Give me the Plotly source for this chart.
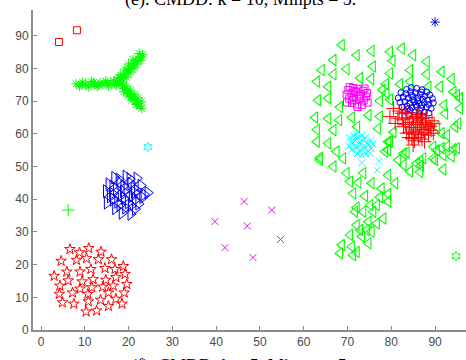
import plotly.graph_objects as go

# ---- cluster data (x, y) ----
sq_red_x = [4.1, 8.2]
sq_red_y = [88.1, 91.7]

ast_green_x = [8.0, 8.8, 9.5, 10.2, 10.9, 11.5, 12.2, 12.8, 13.5, 14.1, 14.8, 15.4, 16.0, 16.6, 17.2, 17.8,
               9.2, 11.9, 13.2, 15.1, 16.9,
               18.5, 19.0, 19.4, 19.9, 20.3, 20.8, 21.2, 21.7, 22.2, 22.7, 23.2, 19.6, 20.5, 21.4, 22.0, 22.8,
               18.2, 19.2, 20.0, 21.0, 22.4,
               18.6, 19.1, 19.6, 20.1, 20.6, 21.1, 21.6, 22.1, 22.6, 23.0, 19.5, 20.4, 21.3, 22.2, 22.9,
               18.9, 19.9, 20.8, 21.8, 17.5, 18.0, 18.4, 17.8]
ast_green_y = [75.3, 74.6, 75.8, 75.1, 74.4, 76.0, 75.2, 74.5, 75.7, 75.0, 76.2, 74.7, 75.5, 76.3, 74.9, 75.8,
               74.9, 75.6, 74.9, 75.6, 75.2,
               76.8, 77.8, 78.5, 79.3, 80.1, 80.8, 81.6, 82.3, 83.0, 83.6, 84.2, 77.2, 78.9, 80.2, 81.4, 82.5,
               78.0, 79.8, 81.4, 82.8, 84.6,
               74.7, 73.8, 73.0, 72.2, 71.4, 70.7, 70.0, 69.3, 68.5, 67.8, 74.6, 73.2, 72.1, 71.0, 69.8,
               72.9, 71.6, 70.3, 69.0, 76.8, 76.0, 75.5, 77.3]

hex_cyan_x = [24.4]
hex_cyan_y = [56.0]

plus_green_x = [6.2]
plus_green_y = [36.7]

tri_blue_x = [16.8, 19.4, 21.9, 15.5, 18.0, 20.5, 22.8, 14.9, 17.2, 19.6, 22.0, 24.4, 15.8, 18.3, 20.8, 23.2,
              15.1, 17.5, 19.9, 22.3, 17.0, 19.3, 21.5, 18.5, 20.5, 16.4, 18.9, 21.2, 16.3, 18.8, 21.3, 23.5,
              16.5, 19.0, 21.5, 18.0, 20.6, 17.8, 20.3]
tri_blue_y = [46.6, 47.0, 46.4, 44.6, 45.0, 44.8, 44.2, 42.5, 43.2, 43.0, 42.6, 42.0, 40.8, 41.2, 41.0, 40.6,
              38.9, 39.2, 39.0, 38.6, 37.2, 37.4, 37.0, 35.8, 35.5, 44.0, 44.1, 43.4, 41.8, 42.4, 42.1, 41.5,
              39.9, 40.3, 39.8, 38.2, 38.1, 46.1, 46.2]

star_red_x = [6.6, 8.8, 10.9, 13.7, 4.6, 8.1, 10.4, 13.1, 16.1, 5.9, 8.9, 11.4, 14.6, 16.9, 18.8, 19.2,
              3.0, 6.2, 9.4, 11.9, 14.8, 17.1, 4.3, 8.9, 11.6, 14.1, 16.5, 19.6, 4.2, 7.2, 10.7, 15.4, 19.0,
              4.9, 7.5, 10.8, 13.6, 17.1, 15.4, 18.5, 10.3, 12.7]
star_red_y = [24.7, 23.7, 25.0, 23.9, 21.1, 21.4, 21.9, 21.6, 21.6, 17.8, 17.8, 18.6, 18.9, 18.6, 19.5, 17.1,
              16.5, 15.1, 14.8, 15.5, 15.3, 16.1, 13.5, 12.6, 13.0, 13.2, 13.5, 14.0, 11.0, 11.4, 11.0, 11.4, 11.4,
              8.4, 8.0, 8.7, 9.2, 9.5, 7.3, 8.0, 5.6, 5.9]

x_mag_x = [46.4, 52.7, 39.7, 47.1, 54.7, 42.0, 48.4]
x_mag_y = [39.3, 36.7, 33.2, 31.8, 27.7, 25.2, 22.2]

ast_blue_x = [90.0]
ast_blue_y = [94.2]

hex_green_x = [94.8]
hex_green_y = [22.6]

tri_green_x = [68.7, 72.1, 75.5, 79.7, 82.4, 85.0, 66.8, 80.3, 88.1, 64.1, 66.8, 69.8, 75.8, 79.7, 84.3, 88.1,
               91.5, 63.0, 65.6, 72.9, 75.4, 78.8, 82.0, 84.3, 88.5, 93.8, 63.3, 65.6, 68.3, 77.4, 79.7, 94.2,
               95.7, 92.1, 62.6, 65.6, 68.1, 71.0, 74.8, 77.4, 92.3, 95.7, 63.0, 66.8, 72.2, 77.0, 91.5, 94.6,
               63.0, 65.6, 79.3, 92.7, 95.0, 91.5, 63.7, 67.5, 69.0, 79.3, 82.8, 87.3, 89.6, 81.6,
               83.5, 86.6, 90.0, 91.9, 94.2, 63.7, 66.8, 82.8, 84.3, 86.6, 91.9, 69.8, 73.6, 70.6, 72.5, 75.5,
               79.3, 80.9, 77.8, 71.3, 74.0, 77.4, 79.3, 76.7, 79.3, 72.1, 75.2, 71.7, 73.6, 75.9, 78.2, 72.1,
               74.8, 76.7, 72.9, 70.6, 74.4, 73.3, 75.5, 68.7, 71.0, 74.8, 68.3, 71.3, 72.1,
               90.4, 85.8, 78.9, 91.1, 95.0, 95.3, 90.4, 92.7, 79.7, 78.6, 89.6, 93.8, 86.8, 78.0, 80.5]
tri_green_y = [87.2, 84.1, 85.4, 85.1, 86.1, 84.1, 82.6, 82.4, 82.1, 79.5, 78.2, 79.8, 80.6, 78.5, 79.5, 78.3,
               79.0, 76.0, 74.4, 77.1, 76.8, 75.2, 75.2, 76.0, 74.4, 76.8, 70.3, 70.9, 68.2, 70.1, 70.5, 72.9,
               70.9, 68.8, 65.0, 64.7, 64.2, 65.0, 65.7, 65.3, 66.2, 67.8, 61.3, 61.2, 62.2, 61.6, 60.2, 62.2,
               57.6, 57.1, 57.6, 56.1, 55.6, 55.6, 52.7, 54.6, 52.5, 55.0, 54.0, 52.5, 52.5, 52.0,
               54.3, 51.6, 52.0, 53.5, 55.3, 52.0, 50.0, 50.5, 48.5, 48.3, 49.1, 48.0, 48.0, 45.4, 45.1, 44.9,
               47.4, 44.9, 43.3, 41.8, 41.0, 40.6, 41.6, 38.2, 39.3, 37.5, 38.2, 36.2, 36.2, 36.2, 34.1, 32.1,
               33.1, 32.6, 30.6, 29.1, 30.6, 28.6, 30.1, 26.0, 25.5, 26.5, 23.5, 22.9, 23.9,
               55.0, 51.0, 72.4, 74.4, 71.9, 63.2, 62.2, 59.6, 57.6, 54.6, 56.1, 53.1, 50.2, 73.5, 60.5]

sq_mag_x = [70.2, 71.3, 72.5, 73.6, 74.5, 69.8, 70.9, 72.0, 73.1, 74.2, 70.4, 71.5, 72.6, 73.7, 69.9, 71.0,
            72.2, 73.3, 74.6, 71.6, 72.9, 71.1, 70.5, 73.9, 72.3]
sq_mag_y = [73.4, 74.0, 73.8, 73.2, 72.5, 72.0, 72.4, 72.8, 72.1, 71.4, 70.8, 71.2, 70.6, 70.2, 69.6, 69.5,
            69.0, 68.8, 69.6, 73.1, 71.5, 70.3, 74.3, 73.9, 68.2]

circ_blue_x = [83.5, 84.6, 85.8, 87.0, 88.1, 82.2, 83.3, 84.4, 85.5, 86.6, 87.7, 88.8, 81.6, 82.7, 83.9, 85.0,
               86.1, 87.2, 88.3, 89.4, 82.0, 83.1, 84.2, 85.3, 86.4, 87.5, 88.6, 89.6, 82.5, 83.6, 84.7, 85.8,
               86.9, 88.0, 89.1, 83.2, 84.3, 85.4, 86.5, 87.6, 88.6, 84.0, 85.2, 86.3, 87.3, 84.9, 86.0, 87.0,
               84.6, 85.6, 83.8, 86.9]
circ_blue_y = [73.6, 74.2, 73.9, 73.5, 72.8, 72.6, 72.3, 72.9, 72.6, 72.1, 71.6, 71.9, 71.0, 71.3, 70.9, 71.4,
               71.0, 70.6, 70.3, 70.8, 69.6, 69.9, 69.4, 69.8, 69.3, 69.6, 69.0, 69.5, 68.2, 68.5, 68.0, 68.4,
               67.9, 68.2, 67.8, 66.9, 67.2, 66.7, 67.1, 66.6, 66.4, 65.8, 65.6, 65.9, 65.4, 70.4, 70.1, 68.8,
               71.8, 68.9, 67.6, 72.8]

plus_red_x = [80.5, 79.7, 80.9, 82.4, 81.5, 82.8, 83.5, 84.7, 85.0, 87.0, 86.6, 88.9, 89.6,
              84.2, 85.1, 86.0, 86.9, 87.8, 88.6, 84.6, 85.5, 86.4, 87.3, 88.2, 89.1, 84.1, 85.0, 85.9, 86.8,
              87.7, 88.5, 83.8, 84.9, 85.7, 87.1, 88.0, 89.3, 86.2, 85.3, 83.2, 82.6, 81.8, 83.4, 87.6, 89.8,
              86.1, 84.0]
plus_red_y = [67.8, 65.3, 63.2, 66.3, 64.8, 62.2, 60.2, 58.6, 56.6, 58.4, 64.2, 62.2, 60.2,
              63.5, 62.8, 63.6, 62.9, 63.4, 62.7, 61.9, 61.2, 62.0, 61.3, 61.8, 61.1, 60.5, 59.9, 60.6, 59.8,
              60.3, 59.6, 64.9, 64.6, 65.3, 64.8, 65.0, 64.0, 58.9, 57.9, 62.9, 64.3, 67.0, 66.5, 57.6, 63.1,
              65.9, 58.9]

x_cyan_x = [70.5, 71.4, 72.3, 73.2, 74.0, 70.9, 71.8, 72.7, 73.6, 74.5, 75.3, 70.4, 71.3, 72.2, 73.1, 74.0,
            74.9, 71.0, 71.9, 72.8, 73.7, 74.6, 75.5, 72.3, 73.3, 74.2, 75.2, 73.3, 77.2, 76.8, 75.8, 72.0]
x_cyan_y = [58.8, 59.4, 58.9, 59.5, 58.8, 57.6, 58.0, 57.5, 58.1, 57.4, 57.9, 56.3, 56.7, 56.2, 56.8, 56.1,
            56.6, 55.1, 55.5, 54.9, 55.4, 54.8, 55.5, 54.0, 53.6, 53.9, 54.0, 51.2, 51.6, 48.9, 56.9, 60.0]

x_ticks = [0, 10, 20, 30, 40, 50, 60, 70, 80, 90]
y_ticks = [0, 10, 20, 30, 40, 50, 60, 70, 80, 90]

RED, GREEN, BLUE, CYAN, MAG = "#ff0000", "#00ff00", "#0000ff", "#00ffff", "#ff00ff"


def series(xs, ys, symbol, color, size, width=1.0):
    return go.Scatter(x=xs, y=ys, mode="markers", cliponaxis=False, hoverinfo="skip",
                      marker=dict(symbol=symbol, size=size, color=color,
                                  line=dict(color=color, width=width)))


fig = go.Figure()
fig.add_trace(series(tri_green_x, tri_green_y, "triangle-left-open", GREEN, 10, 1.1))
fig.add_trace(series(sq_red_x, sq_red_y, "square-open", RED, 7))
fig.add_trace(series(ast_green_x, ast_green_y, "asterisk-open", GREEN, 8))
fig.add_trace(series(hex_cyan_x, hex_cyan_y, "hexagram-open", CYAN, 7))
fig.add_trace(series(plus_green_x, plus_green_y, "cross-thin-open", GREEN, 9))
fig.add_trace(series(tri_blue_x, tri_blue_y, "triangle-right-open", BLUE, 11))
fig.add_trace(series(star_red_x, star_red_y, "star-open", RED, 8))
fig.add_trace(series(x_mag_x, x_mag_y, "x-thin-open", MAG, 7))
fig.add_trace(series(ast_blue_x, ast_blue_y, "asterisk-open", BLUE, 8))
fig.add_trace(series(hex_green_x, hex_green_y, "hexagram-open", GREEN, 7))
fig.add_trace(series(sq_mag_x, sq_mag_y, "square-open", MAG, 7))
fig.add_trace(series(circ_blue_x, circ_blue_y, "circle-open", BLUE, 6))
fig.add_trace(series(plus_red_x, plus_red_y, "cross-thin-open", RED, 10))
fig.add_trace(series(x_cyan_x, x_cyan_y, "x-thin-open", CYAN, 7))

axis_common = dict(
    showgrid=False, zeroline=False, showline=True, linecolor="#8c8c8c", linewidth=2,
    ticks="inside", ticklen=4, tickwidth=1, tickcolor="#8c8c8c",
    tickfont=dict(family="Liberation Sans, Arial, sans-serif", size=12, color="#4a4a4a"),
)

fig.update_layout(
    width=466, height=360,
    margin=dict(l=33, r=0, t=10, b=30),
    paper_bgcolor="white", plot_bgcolor="white",
    showlegend=False, hovermode=False,
    xaxis=dict(range=[-1.83, 97.07], tickvals=x_ticks, **axis_common),
    yaxis=dict(range=[0, 97.9], tickvals=y_ticks, **axis_common),
    annotations=[
        dict(text="(e). CMDD: k = 10, Minpts = 5.", xref="paper", yref="paper",
             x=0.48, y=0.995, xanchor="center", yanchor="bottom", showarrow=False,
             font=dict(family="Liberation Serif, Times New Roman, serif", size=18, color="black")),
        dict(text="(f). CMDD: k = 5, Minpts = 5.", xref="paper", yref="paper",
             x=0.48, y=-0.074, xanchor="center", yanchor="top", showarrow=False,
             font=dict(family="Liberation Serif, Times New Roman, serif", size=18, color="black")),
    ],
)

fig.write_html("out.html")
